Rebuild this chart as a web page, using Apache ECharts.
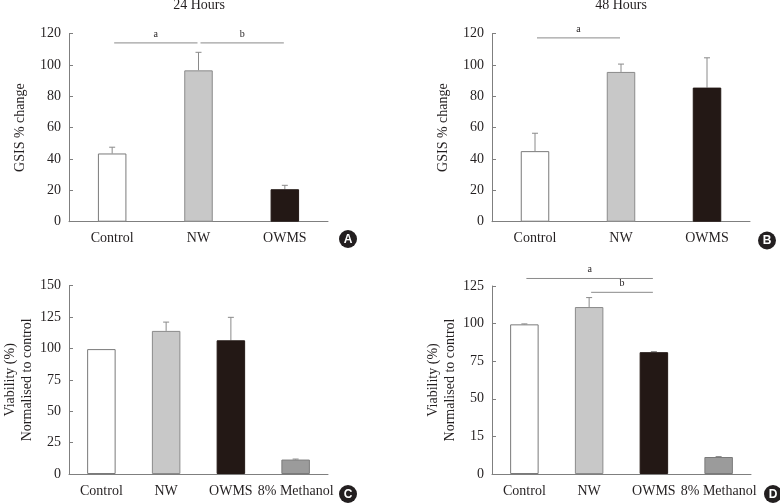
<!DOCTYPE html>
<html>
<head>
<meta charset="utf-8">
<script src="https://cdn.jsdelivr.net/npm/echarts@6/dist/echarts.min.js"></script>
<style>html,body{margin:0;padding:0;background:#fff}#c{width:780px;height:503px}</style>
</head>
<body>
<div id="c"></div>
<script>
const categoriesAB = ['Control', 'NW', 'OWMS'];
const categoriesCD = ['Control', 'NW', 'OWMS', '8% Methanol'];
const gsis24 = [43.5, 96.5, 20.7];
const gsis24Err = [4, 11.5, 2.5];
const gsis48 = [45, 95.5, 85.5];
const gsis48Err = [11.4, 5, 19];
const viab24 = [99.5, 114, 106.5, 11.5];
const viab24Err = [0, 7, 18.3, 0.4];
const viab48 = [99.5, 111, 81, 11.3];
const viab48Err = [0.3, 6.3, 0.4, 0.3];
const ticksAB = [0, 20, 40, 60, 80, 100, 120];
const ticksC = [0, 25, 50, 75, 100, 125, 150];
const ticksD = ['0', '15', '50', '75', '100', '125'];
const panelTitles = ['24 Hours', '48 Hours'];
// significance brackets: [fromCategory, toCategory, yValue]
const sigA = [[0, 1, 114], [1, 2, 114]];
const sigALabels = ['a', 'b'];
const sigB = [[0, 1, 117.2]];
const sigBLabels = ['a'];
const sigD = [[0, 2, 130], [1, 2, 120.8]];
const sigDLabels = ['a', 'b'];

const barColors = ['#ffffff', '#c8c8c8', '#231815', '#9b9b9b'];
const barBorders = ['#7a7a7a', '#8a8a8a', '#231815', '#7a7a7a'];
const FONT = '"Liberation Serif", "DejaVu Serif", serif';
const AXIS = '#7f7f7f';

const chart = echarts.init(document.getElementById('c'), null, {renderer: 'canvas'});

const grids = [
  {left: 69, top: 33.5, width: 259, height: 188.2},
  {left: 492, top: 33.5, width: 258, height: 188.2},
  {left: 69, top: 285.7, width: 259, height: 188.3},
  {left: 492, top: 286, width: 259, height: 188}
];

function xAxis(i, cats) {
  return {
    gridIndex: i, type: 'category', data: cats,
    axisLine: {lineStyle: {color: AXIS, width: 1}},
    axisTick: {show: false},
    axisLabel: {interval: 0, color: '#231f20', fontFamily: FONT, fontSize: 14, margin: 10}
  };
}
function yAxis(i, max, interval, name, gap, fmt) {
  return {
    gridIndex: i, type: 'value', min: 0, max: max, interval: interval,
    name: name, nameLocation: 'middle', nameGap: gap, nameRotate: 90,
    nameTextStyle: {color: '#231f20', fontFamily: FONT, fontSize: 14, lineHeight: 17},
    splitLine: {show: false},
    axisLine: {show: true, lineStyle: {color: AXIS, width: 1}},
    axisTick: {show: true, inside: true, length: 4, lineStyle: {color: AXIS}},
    axisLabel: {color: '#231f20', fontFamily: FONT, fontSize: 14, margin: 8, formatter: fmt}
  };
}

function barSeries(i, vals) {
  return {
    type: 'bar', xAxisIndex: i, yAxisIndex: i, barWidth: 28.5,
    data: vals.map((v, k) => ({value: v, itemStyle: {color: barColors[k], borderColor: barBorders[k], borderWidth: 1}})),
    silent: true, animation: false
  };
}
function errSeries(i, vals, errs) {
  return {
    type: 'custom', xAxisIndex: i, yAxisIndex: i, silent: true, animation: false, z: 1,
    data: vals.map((v, k) => [k, v, errs[k]]),
    encode: {x: 0, y: 1},
    renderItem: function (params, api) {
      const k = api.value(0), v = api.value(1), e = api.value(2);
      if (!(e > 0)) return null;
      const p0 = api.coord([k, v]);
      const p1 = api.coord([k, v + e]);
      const st = {stroke: '#8a8a8a', lineWidth: 1};
      return {type: 'group', children: [
        {type: 'line', shape: {x1: p0[0], y1: p0[1], x2: p1[0], y2: p1[1]}, style: st},
        {type: 'line', shape: {x1: p1[0] - 3, y1: p1[1], x2: p1[0] + 3, y2: p1[1]}, style: st}
      ]};
    }
  };
}
function sigSeries(i, sig, labels) {
  return {
    type: 'custom', xAxisIndex: i, yAxisIndex: i, silent: true, animation: false, clip: false,
    data: sig,
    encode: {x: [0, 1], y: 2},
    renderItem: function (params, api) {
      const a = api.coord([api.value(0), api.value(2)]);
      const b = api.coord([api.value(1), api.value(2)]);
      const x1 = a[0] + 2, x2 = b[0] - 1;
      return {type: 'group', children: [
        {type: 'line', shape: {x1: x1, y1: a[1], x2: x2, y2: a[1]}, style: {stroke: '#8a8a8a', lineWidth: 1}},
        {type: 'text', style: {text: labels[params.dataIndex], x: (x1 + x2) / 2, y: a[1] - 4,
          textAlign: 'center', textVerticalAlign: 'bottom', fontFamily: FONT, fontSize: 10, fill: '#231f20'}}
      ]};
    }
  };
}

function badge(letter, x, y) {
  return {type: 'group', x: x, y: y, children: [
    {type: 'circle', shape: {cx: 0, cy: 0, r: 9}, style: {fill: '#231f20'}},
    {type: 'text', style: {text: letter, x: 0, y: 0.5, textAlign: 'center', textVerticalAlign: 'middle',
      fontFamily: '"Liberation Sans", Arial, sans-serif', fontWeight: 'bold', fontSize: 12, fill: '#ffffff'}}
  ]};
}

const option = {
  animation: false,
  backgroundColor: '#ffffff',
  grid: grids,
  xAxis: [xAxis(0, categoriesAB), xAxis(1, categoriesAB), xAxis(2, categoriesCD), xAxis(3, categoriesCD)],
  yAxis: [
    yAxis(0, 120, 20, 'GSIS % change', 40),
    yAxis(1, 120, 20, 'GSIS % change', 40),
    yAxis(2, 150, 25, 'Viability (%)\nNormalised to control', 32),
    yAxis(3, 125, 25, 'Viability (%)\nNormalised to control', 32, function (v) { return ticksD[Math.round(v / 25)]; })
  ],
  series: [
    barSeries(0, gsis24), errSeries(0, gsis24, gsis24Err), sigSeries(0, sigA, sigALabels),
    barSeries(1, gsis48), errSeries(1, gsis48, gsis48Err), sigSeries(1, sigB, sigBLabels),
    barSeries(2, viab24), errSeries(2, viab24, viab24Err),
    barSeries(3, viab48), errSeries(3, viab48, viab48Err), sigSeries(3, sigD, sigDLabels)
  ],
  graphic: [
    {type: 'text', style: {text: panelTitles[0], x: 199, y: 5, textAlign: 'center', textVerticalAlign: 'middle', fontFamily: FONT, fontSize: 14, fill: '#231f20'}},
    {type: 'text', style: {text: panelTitles[1], x: 621, y: 5, textAlign: 'center', textVerticalAlign: 'middle', fontFamily: FONT, fontSize: 14, fill: '#231f20'}},
    badge('A', 348, 239),
    badge('B', 767, 240.5),
    badge('C', 348, 494),
    badge('D', 773, 494)
  ]
};
chart.setOption(option);
</script>
</body>
</html>
